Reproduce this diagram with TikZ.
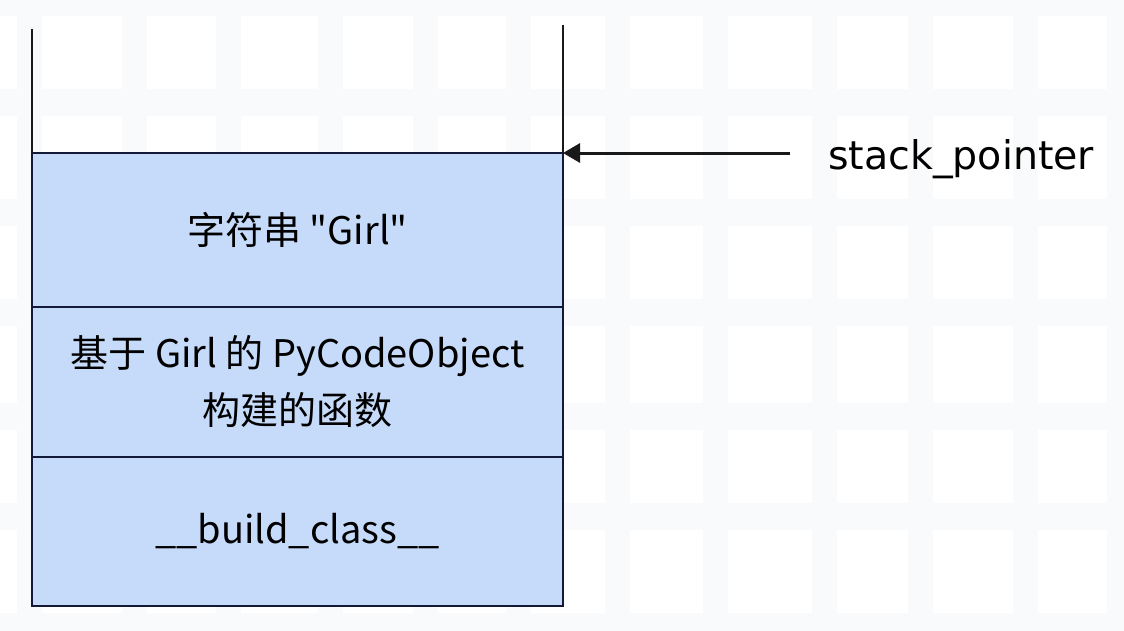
\documentclass[tikz,border=0pt]{standalone}
\usepackage{fontspec}
\setmainfont{Noto Sans CJK SC}
\newfontfamily\pointerfont{DejaVu Sans}
\usetikzlibrary{positioning, arrows.meta}
\definecolor{stackfill}{HTML}{C6DBFA}
\definecolor{stackline}{HTML}{14193A}
\definecolor{gridband}{HTML}{F9FAFB}
\tikzset{
	frame/.style={draw=stackline, line width=2pt, fill=stackfill, minimum width=531pt,
		inner sep=0pt, outer sep=0pt, align=center, font=\fontsize{38}{57}\selectfont},
	wall/.style={line width=2pt, draw=black!90}
}

\begin{document}
\begin{tikzpicture}[x=1pt, y=-1pt, node distance=0pt,
	ptr/.style={-{Triangle[length=17pt, width=19pt]}, line width=3pt, draw=black!90}]
	\useasboundingbox[fill=white] (0,0) rectangle (1124,630);
	% faint background grid
	\foreach \gx in {17,122,216,318,413,506,605,703,812,908,1013,1107}
		\fill[gridband] (\gx,0) rectangle ++(25,630);
	\foreach \gy in {-11,89,199,299,403,503,613}
		\fill[gridband] (0,\gy) rectangle ++(1124,27);
	% stack frames
	\node[frame, minimum height=154pt, anchor=north west] (str) at (32,153) {字符串 \textquotedbl Girl\textquotedbl};
	\node[frame, minimum height=150pt, below=of str] (func) {基于 Girl 的 PyCodeObject\\构建的函数};
	\node[frame, minimum height=149pt, below=of func] (build) {\_\_build\_class\_\_};
	\coordinate (lefttop) at (32,29);
	\coordinate (righttop) at (563,25);
	\draw[wall] (lefttop) -- (str.north west);
	\draw[wall] (righttop) -- (str.north east);
	% pointer
	\node[font=\pointerfont\fontsize{39.5}{42}\selectfont, anchor=base west, inner sep=0pt] (sp) at (828,169) {stack\_pointer};
	\coordinate (spstart) at (790,153);
	\draw[ptr] (spstart) -- (str.north east);
\end{tikzpicture}
\end{document}
